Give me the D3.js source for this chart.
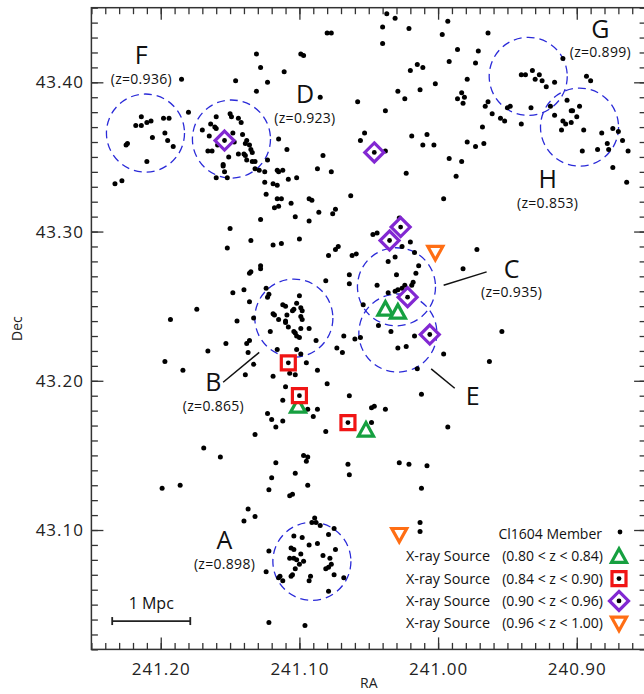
<!DOCTYPE html>
<html><head><meta charset="utf-8">
<script src="https://cdn.jsdelivr.net/npm/d3@7"></script>
<style>
html,body{margin:0;padding:0;background:#fff;}
svg{display:block;font-family:"Open Sans",sans-serif;}
</style></head><body>
<svg id="chart" width="644" height="694"></svg>
<script>
// ---- Cl1604 spectroscopic members (RA, Dec in degrees) ----
const memberRA = [
241.214,241.218,241.214,241.210,241.207,241.198,241.194,241.206,241.197,241.195,241.191,241.224,241.225,241.210,241.233,241.228,
241.185,241.146,241.131,241.128,241.111,241.099,241.097,241.123,241.131,241.080,241.077,
241.085,241.180,241.160,241.150,241.149,241.144,241.142,241.164,241.161,241.160,241.170,241.165,241.153,241.148,241.141,241.147,
241.138,241.139,241.136,241.134,241.135,241.144,241.140,241.139,241.138,241.134,241.132,241.151,241.155,241.155,241.166,241.163,
241.159,241.160,241.152,241.154,241.132,241.129,241.123,241.115,241.109,241.125,241.116,241.115,241.112,241.125,241.119,241.116,
241.108,241.102,241.124,241.116,241.113,241.106,241.118,241.115,241.128,241.150,241.135,241.152,241.119,241.113,241.103,241.100,
241.093,241.091,241.087,241.083,241.077,241.086,241.093,241.074,241.076,241.072,241.074,
241.037,241.031,241.040,241.040,241.021,240.993,240.997,240.964,240.986,240.971,240.992,240.973,241.015,241.011,241.020,240.979,
241.002,241.029,241.024,241.013,240.986,240.983,240.981,240.982,240.966,240.964,241.058,241.038,241.053,241.056,241.046,241.038,
241.019,241.008,241.011,241.003,240.968,240.979,240.973,240.967,240.992,240.983,241.023,240.987,241.063,240.996,
240.910,240.940,240.937,240.932,240.927,240.930,240.925,240.922,240.916,240.893,240.890,240.948,240.950,240.961,240.955,240.952,
240.940,240.933,240.919,240.916,240.907,240.898,240.904,240.903,240.900,240.910,240.908,240.904,240.911,240.895,240.882,240.874,
240.870,240.867,240.878,240.877,240.885,240.896,240.863,240.874,240.864,241.028,241.027,241.035,
241.136,241.135,241.128,241.128,241.148,241.140,241.136,241.124,241.122,241.123,241.174,241.193,241.145,241.166,241.153,241.138,
241.136,241.137,241.133,241.139,241.197,241.184,241.081,241.100,241.079,241.133,
241.112,241.110,241.105,241.104,241.102,241.099,241.098,241.099,241.098,241.119,241.118,241.115,241.110,241.109,241.110,241.108,
241.104,241.103,241.100,241.102,241.093,241.099,241.121,241.088,241.116,241.102,241.099,241.095,241.108,241.107,241.103,241.119,
241.110,241.112,241.100,241.094,241.087,241.090,241.080,241.081,241.123,241.120,241.117,241.112,241.132,241.087,
241.047,241.044,241.020,241.026,241.017,241.062,241.059,241.031,241.036,241.014,241.016,241.030,241.064,241.064,241.044,241.018,
241.019,241.024,241.026,241.029,241.031,241.036,241.021,241.054,241.043,241.034,241.017,241.006,241.068,241.060,241.056,241.073,
241.069,241.029,241.023,240.996,241.015,241.064,241.012,241.048,241.046,241.038,241.065,241.048,240.993,240.972,240.982,240.954,
240.963,
241.169,241.157,241.186,241.199,241.117,241.097,241.094,241.095,241.103,241.120,241.065,241.064,241.122,241.094,241.107,241.105,
241.137,241.132,241.140,241.122,241.124,241.122,241.096,241.028,241.021,241.008,241.012,241.013,241.013,
241.089,241.091,241.088,241.085,241.075,241.079,241.104,241.098,241.087,241.093,241.074,241.106,241.104,241.099,241.083,241.107,
241.104,241.102,241.078,241.097,241.100,241.077,241.079,241.081,241.103,241.105,241.106,241.075,241.092,241.114,241.115,241.112,
241.093,241.068,241.079
];
const memberDec = [
43.377,43.371,43.371,43.373,43.374,43.376,43.376,43.363,43.366,43.361,43.357,43.359,43.358,43.347,43.332,43.334,
43.402,43.401,43.419,43.410,43.407,43.419,43.418,43.400,43.394,43.433,43.433,
43.390,43.380,43.377,43.379,43.377,43.376,43.373,43.372,43.370,43.369,43.368,43.364,43.362,43.366,43.365,43.360,
43.361,43.359,43.358,43.353,43.355,43.352,43.352,43.351,43.348,43.347,43.347,43.350,43.345,43.344,43.354,43.354,
43.358,43.336,43.336,43.340,43.342,43.341,43.348,43.362,43.355,43.340,43.341,43.340,43.341,43.333,43.332,43.331,
43.335,43.336,43.325,43.322,43.322,43.319,43.316,43.317,43.308,43.302,43.294,43.289,43.291,43.292,43.310,43.295,
43.322,43.321,43.342,43.351,43.340,43.313,43.307,43.315,43.312,43.290,43.288,
43.446,43.443,43.437,43.426,43.436,43.441,43.432,43.433,43.422,43.421,43.414,43.413,43.412,43.410,43.408,43.402,
43.399,43.394,43.389,43.395,43.389,43.393,43.390,43.386,43.384,43.387,43.387,43.381,43.366,43.361,43.353,43.354,
43.364,43.365,43.358,43.358,43.370,43.360,43.357,43.359,43.349,43.347,43.339,43.337,43.324,43.322,
43.416,43.405,43.405,43.408,43.405,43.402,43.401,43.397,43.400,43.404,43.401,43.384,43.383,43.379,43.376,43.374,
43.372,43.383,43.384,43.378,43.388,43.384,43.381,43.381,43.377,43.374,43.372,43.373,43.368,43.368,43.366,43.369,
43.367,43.361,43.359,43.355,43.355,43.354,43.354,43.343,43.333,43.309,43.303,43.293,
43.272,43.273,43.277,43.275,43.259,43.261,43.253,43.262,43.258,43.256,43.248,43.241,43.240,43.220,43.225,43.225,
43.227,43.219,43.211,43.204,43.213,43.207,43.267,43.257,43.284,43.242,
43.251,43.250,43.247,43.248,43.252,43.249,43.247,43.243,43.241,43.245,43.244,43.241,43.240,43.244,43.239,43.236,
43.233,43.232,43.229,43.230,43.235,43.235,43.233,43.227,43.221,43.221,43.218,43.212,43.212,43.205,43.204,43.203,
43.196,43.187,43.190,43.181,43.181,43.176,43.198,43.166,43.178,43.174,43.169,43.173,43.164,43.207,
43.298,43.299,43.293,43.290,43.286,43.284,43.285,43.283,43.280,43.277,43.272,43.271,43.271,43.265,43.264,43.266,
43.264,43.264,43.262,43.261,43.260,43.259,43.255,43.251,43.237,43.233,43.230,43.231,43.230,43.228,43.229,43.222,
43.219,43.222,43.223,43.218,43.208,43.190,43.191,43.182,43.183,43.181,43.172,43.172,43.169,43.288,43.275,43.233,
43.213,
43.155,43.149,43.130,43.128,43.145,43.150,43.149,43.146,43.138,43.135,43.144,43.137,43.127,43.130,43.123,43.124,
43.114,43.109,43.106,43.086,43.072,43.038,43.036,43.145,43.144,43.143,43.128,43.105,43.099,
43.108,43.105,43.105,43.103,43.101,43.097,43.096,43.095,43.091,43.090,43.087,43.088,43.087,43.084,43.083,43.081,
43.081,43.080,43.081,43.079,43.077,43.077,43.075,43.074,43.074,43.070,43.069,43.070,43.069,43.069,43.068,43.066,
43.066,43.068,43.059
];

// ---- X-ray sources by redshift bin ----
const xrayGreenRA  = [241.038, 241.029, 241.101, 241.052];   // 0.80 < z < 0.84
const xrayGreenDec = [43.248, 43.246, 43.183, 43.167];
const xrayRedRA    = [241.108, 241.100, 241.065];            // 0.84 < z < 0.90
const xrayRedDec   = [43.212, 43.190, 43.172];
const xrayPurpleRA = [241.154, 241.046, 241.027, 241.035, 241.022, 241.006]; // 0.90 < z < 0.96
const xrayPurpleDec= [43.361, 43.353, 43.303, 43.294, 43.256, 43.231];
const xrayOrangeRA = [241.002, 241.028];                     // 0.96 < z < 1.00
const xrayOrangeDec= [43.286, 43.097];

// ---- Clusters ----
const clusterNames = ["A","B","C","D","E","F","G","H"];
const clusterZ     = ["0.898","0.865","0.935","0.923","","0.936","0.899","0.853"];
const clusterRA    = [241.091, 241.104, 241.030, 241.149, 241.029, 241.211, 240.935, 240.898];
const clusterDec   = [43.079, 43.242, 43.263, 43.362, 43.232, 43.366, 43.404, 43.370];
const labelRA      = [241.154, 241.162, 240.947, 241.096, 240.975, 241.214, 240.883, 240.921];
const labelDec     = [43.087, 43.193, 43.269, 43.386, 43.184, 43.412, 43.430, 43.329];
// leader lines (B, C, E)
const leaderNames = ["B","C","E"];
const leaderRA1  = [241.155, 240.996, 241.005];
const leaderDec1 = [43.199, 43.264, 43.208];
const leaderRA2  = [241.129, 240.965, 240.988];
const leaderDec2 = [43.219, 43.273, 43.195];

const mpcDeg = 0.0563;              // 1 Mpc in RA degrees
const scaleBarRA = 241.235, scaleBarDec = 43.039;

const raMajor  = [241.20, 241.10, 241.00, 240.90];
const raLabels = ["241.20","241.10","241.00","240.90"];
const decMajor = [43.10, 43.20, 43.30, 43.40];
const decLabels= ["43.10","43.20","43.30","43.40"];
const raMinor  = d3.range(0, 41).map(i => +(241.25 - i*0.01).toFixed(2));
const decMinor = d3.range(0, 44).map(i => +(43.02 + i*0.01).toFixed(2));

// ---- Drawing ----
const svg = d3.select("#chart");
const L = 91.4, R = 646.1, T = 7.7, B = 649.4;
const x = d3.scaleLinear().domain([241.25, 240.85]).range([L, R]);
const y = d3.scaleLinear().domain([43.02, 43.45]).range([B, T]);
const axisColor = "#333";

function styleAxis(g){
  g.select(".domain").remove();
  g.selectAll(".tick line").attr("stroke", axisColor).attr("stroke-width", 1.3);
  g.selectAll("text").attr("font-family","Open Sans").attr("font-size",17)
   .attr("letter-spacing","1px").attr("fill","#222");
}
// minor ticks
svg.append("g").attr("transform",`translate(0,${B})`)
  .call(d3.axisBottom(x).tickValues(raMinor).tickSize(-6.5).tickFormat("")).call(styleAxis);
svg.append("g").attr("transform",`translate(0,${T})`)
  .call(d3.axisTop(x).tickValues(raMinor).tickSize(-6.5).tickFormat("")).call(styleAxis);
svg.append("g").attr("transform",`translate(${L},0)`)
  .call(d3.axisLeft(y).tickValues(decMinor).tickSize(-6.5).tickFormat("")).call(styleAxis);
svg.append("g").attr("transform",`translate(${R},0)`)
  .call(d3.axisRight(y).tickValues(decMinor).tickSize(-6.5).tickFormat("")).call(styleAxis);
// major ticks
svg.append("g").attr("transform",`translate(0,${B})`)
  .call(d3.axisBottom(x).tickValues(raMajor).tickSizeInner(-12).tickSizeOuter(0).tickPadding(13.5)
        .tickFormat((d,i)=>raLabels[i])).call(styleAxis);
svg.append("g").attr("transform",`translate(0,${T})`)
  .call(d3.axisTop(x).tickValues(raMajor).tickSize(-12).tickFormat("")).call(styleAxis);
svg.append("g").attr("transform",`translate(${L},0)`)
  .call(d3.axisLeft(y).tickValues(decMajor).tickSizeInner(-12).tickSizeOuter(0).tickPadding(7.4)
        .tickFormat((d,i)=>decLabels[i])).call(styleAxis);
svg.append("g").attr("transform",`translate(${R},0)`)
  .call(d3.axisRight(y).tickValues(decMajor).tickSize(-12).tickFormat("")).call(styleAxis);

// frame
svg.append("rect").attr("x",L).attr("y",T).attr("width",R-L).attr("height",B-T)
  .attr("fill","none").attr("stroke",axisColor).attr("stroke-width",1.5);

// axis titles
svg.append("text").attr("x",(L+R)/2).attr("y",688).attr("text-anchor","middle")
  .attr("font-size",14).attr("fill","#222").text("RA");
svg.append("text").attr("transform",`translate(22,${(T+B)/2}) rotate(-90)`).attr("text-anchor","middle")
  .attr("font-size",14).attr("fill","#222").text("Dec");

// cluster circles (0.5 Mpc radius)
const circR = Math.abs(x(241.0) - x(241.0 + mpcDeg/2));
svg.append("g").selectAll("circle").data(clusterNames).join("circle")
  .attr("cx",(d,i)=>x(clusterRA[i])).attr("cy",(d,i)=>y(clusterDec[i])).attr("r",circR)
  .attr("fill","none").attr("stroke","#2a2ad8").attr("stroke-width",1.3).attr("stroke-dasharray","8,5");

// leader lines
svg.append("g").selectAll("line").data(leaderNames).join("line")
  .attr("x1",(d,i)=>x(leaderRA1[i])).attr("y1",(d,i)=>y(leaderDec1[i]))
  .attr("x2",(d,i)=>x(leaderRA2[i])).attr("y2",(d,i)=>y(leaderDec2[i]))
  .attr("stroke","#111").attr("stroke-width",1.5);

// members
svg.append("g").selectAll("circle").data(memberRA).join("circle")
  .attr("cx",(d,i)=>x(d)).attr("cy",(d,i)=>y(memberDec[i])).attr("r",2.5).attr("fill","#000");

// markers
const COL = {green:"#16a040", red:"#f01515", purple:"#8228d2", orange:"#ff6e14"};
const shapes = {
  up:   "M0,-7.5L7.5,6L-7.5,6Z",
  down: "M-7.5,-6L7.5,-6L0,7.5Z",
  square: "M-7,-7L7,-7L7,7L-7,7Z",
  diamond: "M0,-9.5L9.5,0L0,9.5L-9.5,0Z"
};
function drawMarkers(ra, dec, shape, color, dot){
  const g = svg.append("g");
  ra.forEach((d,i)=>{
    const cx = x(d), cy = y(dec[i]);
    const m = g.append("g").attr("transform",`translate(${cx},${cy})`);
    m.append("path").attr("d",shapes[shape]).attr("fill","#fff").attr("stroke",color)
      .attr("stroke-width",3.2).attr("stroke-linejoin","miter");
    if(dot) m.append("circle").attr("r",2.4).attr("fill","#000");
  });
}
drawMarkers(xrayGreenRA, xrayGreenDec, "up", COL.green, false);
drawMarkers(xrayRedRA, xrayRedDec, "square", COL.red, true);
drawMarkers(xrayPurpleRA, xrayPurpleDec, "diamond", COL.purple, true);
drawMarkers(xrayOrangeRA, xrayOrangeDec, "down", COL.orange, false);

// cluster labels
const lab = svg.append("g").attr("fill","#111");
clusterNames.forEach((n,i)=>{
  const lx = x(labelRA[i]), ly = y(labelDec[i]);
  lab.append("text").attr("x",lx).attr("y",ly).attr("text-anchor","middle").attr("font-size",25).text(n);
  if(clusterZ[i]) lab.append("text").attr("x",lx).attr("y",ly+19.5).attr("text-anchor","middle")
     .attr("font-size",14).attr("letter-spacing","0.3px").text(`(z=${clusterZ[i]})`);
});

// scale bar
const sb = svg.append("g").attr("stroke","#222").attr("stroke-width",1.8);
const sx1 = x(scaleBarRA), sx2 = x(scaleBarRA - mpcDeg), sy = y(scaleBarDec);
sb.append("line").attr("x1",sx1).attr("x2",sx2).attr("y1",sy).attr("y2",sy);
sb.append("line").attr("x1",sx1).attr("x2",sx1).attr("y1",sy-4).attr("y2",sy+4);
sb.append("line").attr("x1",sx2).attr("x2",sx2).attr("y1",sy-4).attr("y2",sy+4);
svg.append("text").attr("x",(sx1+sx2)/2).attr("y",sy-12).attr("text-anchor","middle")
  .attr("font-size",16).attr("fill","#111").text("1 Mpc");

// legend
const legendRows = [
  {a:"Cl1604 Member", b:"", shape:"dot", color:"#000"},
  {a:"X-ray Source", b:"(0.80 < z < 0.84)", shape:"up", color:COL.green},
  {a:"X-ray Source", b:"(0.84 < z < 0.90)", shape:"square", color:COL.red},
  {a:"X-ray Source", b:"(0.90 < z < 0.96)", shape:"diamond", color:COL.purple},
  {a:"X-ray Source", b:"(0.96 < z < 1.00)", shape:"down", color:COL.orange}
];
const lg = svg.append("g").attr("font-size",14).attr("fill","#111");
legendRows.forEach((r,i)=>{
  const by = 539 + i*22.3;
  if(r.shape==="dot"){
    lg.append("text").attr("x",602).attr("y",by).attr("text-anchor","end").text(r.a);
    lg.append("circle").attr("cx",620).attr("cy",by-7).attr("r",2.4).attr("fill","#000");
  } else {
    lg.append("text").attr("x",406).attr("y",by).attr("textLength",84).attr("lengthAdjust","spacingAndGlyphs").text(r.a);
    lg.append("text").attr("x",603).attr("y",by).attr("text-anchor","end").text(r.b);
    const m = lg.append("g").attr("transform",`translate(619,${by-5})`);
    m.append("path").attr("d",shapes[r.shape]).attr("fill","#fff").attr("stroke",r.color).attr("stroke-width",3.2);
    if(r.shape==="square"||r.shape==="diamond") m.append("circle").attr("r",2.4).attr("fill","#000");
  }
});
</script>
</body></html>
